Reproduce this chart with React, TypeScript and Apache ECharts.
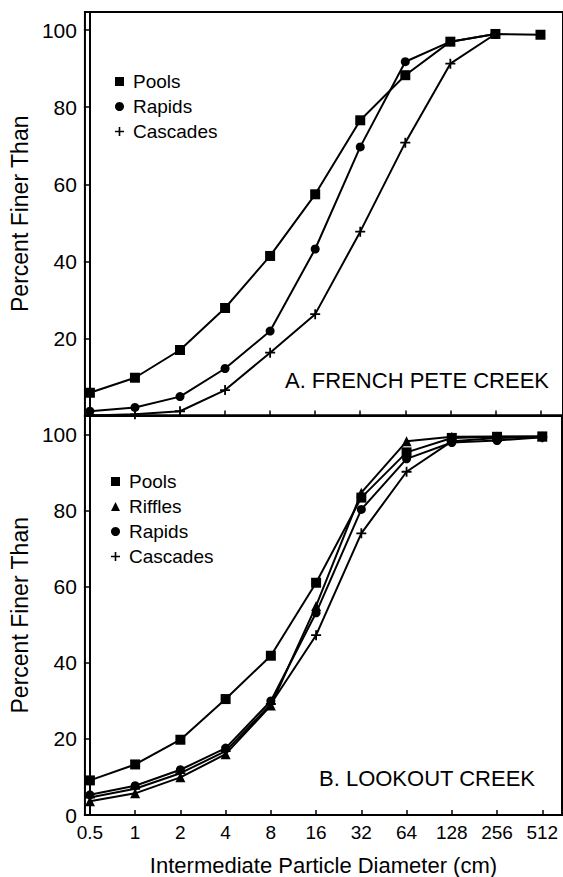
import React, { useEffect, useRef } from 'react';
import * as echarts from 'echarts';

const FONT = '"Liberation Sans", Arial, Helvetica, sans-serif';

// Particle-size classes (cm), equally spaced on a log2 scale
const categories = ['0.5', '1', '2', '4', '8', '16', '32', '64', '128', '256', '512'];

// A. French Pete Creek (percent finer than)
const frenchPools = [5.9, 9.8, 17.0, 27.9, 41.4, 57.4, 76.6, 88.3, 97.0, 99.0, 98.8];
const frenchRapids = [1.1, 2.1, 4.9, 12.2, 21.9, 43.2, 69.7, 91.8, 97.0, 99.0, null];
const frenchCascades = [0.0, 0.3, 1.1, 6.6, 16.3, 26.3, 47.7, 70.8, 91.3, 99.0, null];

// B. Lookout Creek (percent finer than)
const lookoutPools = [9.1, 13.3, 19.8, 30.5, 41.9, 61.1, 83.5, 95.4, 99.2, 99.5, 99.6];
const lookoutRiffles = [3.6, 5.7, 9.9, 16.0, 28.8, 55.0, 84.8, 98.3, 99.5, 99.6, 99.6];
const lookoutRapids = [5.3, 7.7, 11.9, 17.6, 30.0, 53.2, 80.4, 93.7, 98.0, 98.5, 99.4];
const lookoutCascades = [4.6, 6.9, 11.0, 16.8, 29.2, 47.3, 74.1, 90.3, 98.3, 99.2, 99.4];

const yTicks = [0, 20, 40, 60, 80, 100];
const yLabelsTop = [20, 40, 60, 80, 100];
const yLabelsBottom = [0, 20, 40, 60, 80, 100];

const PLUS = 'path://M4.1,0H5.9V4.1H10V5.9H5.9V10H4.1V5.9H0V4.1H4.1Z';

const idx = categories.map((_, i) => i);

function series(name: string, values: (number | null)[], symbol: string, gi: number, size: number) {
  const data: number[][] = [];
  values.forEach((v, i) => {
    if (v !== null) data.push([i, v]);
  });
  return {
    type: 'line',
    name,
    xAxisIndex: gi,
    yAxisIndex: gi,
    data,
    symbol,
    symbolSize: size,
    showSymbol: true,
    lineStyle: { color: '#000', width: 2 },
    itemStyle: { color: '#000' },
    emphasis: { disabled: true },
  };
}

function xAxis(gi: number, max: number, labels: boolean) {
  return {
    type: 'value',
    gridIndex: gi,
    min: -0.11,
    max,
    axisLine: { show: true, lineStyle: { color: '#000', width: 2 } },
    axisTick: { show: true, inside: true, length: 5, customValues: idx, lineStyle: { color: '#000', width: 1.5 } },
    axisLabel: labels
      ? {
          show: true,
          customValues: idx,
          formatter: (v: number) => categories[Math.round(v)] ?? '',
          fontSize: 19,
          color: '#000',
          fontFamily: FONT,
          margin: 8,
        }
      : { show: false },
    splitLine: { show: false },
    name: labels ? 'Intermediate Particle Diameter (cm)' : '',
    nameLocation: 'middle',
    nameGap: 39,
    nameTextStyle: { fontSize: 22, color: '#000', fontFamily: FONT },
  };
}

function yAxis(gi: number, max: number, labelValues: number[]) {
  return {
    type: 'value',
    gridIndex: gi,
    min: 0,
    max,
    axisLine: { show: true, lineStyle: { color: '#000', width: 2 } },
    axisTick: { show: true, inside: false, length: 6, customValues: yTicks, lineStyle: { color: '#000', width: 1.5 } },
    axisLabel: {
      show: true,
      customValues: labelValues,
      fontSize: 21,
      color: '#000',
      fontFamily: FONT,
      margin: 8,
    },
    splitLine: { show: false },
    name: 'Percent Finer Than',
    nameLocation: 'middle',
    nameGap: 44,
    nameRotate: 90,
    nameTextStyle: { fontSize: 23, color: '#000', fontFamily: FONT },
  };
}

const legendText = { fontSize: 19, color: '#000', fontFamily: FONT, padding: [0, 0, 0, 4] };

export default function App() {
  const ref = useRef<HTMLDivElement>(null);
  useEffect(() => {
    if (!ref.current) return;
    const chart = echarts.init(ref.current, null, { renderer: 'svg' });
    chart.setOption({
      animation: false,
      backgroundColor: '#fff',
      grid: [
        { left: 79, top: 12, width: 486, height: 403.5, show: true, borderColor: '#000', borderWidth: 2 },
        { left: 79, top: 415.5, width: 483, height: 402.5, show: true, borderColor: '#000', borderWidth: 2 },
      ],
      xAxis: [xAxis(0, 10.5, false), xAxis(1, 10.436, true)],
      yAxis: [yAxis(0, 104.7, yLabelsTop), yAxis(1, 105.1, yLabelsBottom)],
      legend: [
        {
          orient: 'vertical',
          left: 115,
          top: 72,
          padding: 0,
          itemGap: 6,
          itemWidth: 9,
          itemHeight: 9,
          selectedMode: false,
          textStyle: legendText,
          data: [
            { name: 'Pools', icon: 'rect' },
            { name: 'Rapids', icon: 'circle' },
            { name: 'Cascades', icon: PLUS },
          ],
        },
        {
          orient: 'vertical',
          left: 111,
          top: 472,
          padding: 0,
          itemGap: 6,
          itemWidth: 9,
          itemHeight: 9,
          selectedMode: false,
          textStyle: legendText,
          data: [
            { name: 'Pools', icon: 'rect' },
            { name: 'Riffles', icon: 'triangle' },
            { name: 'Rapids', icon: 'circle' },
            { name: 'Cascades', icon: PLUS },
          ],
        },
      ],
      graphic: [
        {
          type: 'text',
          x: 549,
          y: 380,
          style: { text: 'A. FRENCH PETE CREEK', fill: '#000', font: `22px ${FONT}`, align: 'right', verticalAlign: 'middle' },
        },
        {
          type: 'text',
          x: 535,
          y: 778,
          style: { text: 'B. LOOKOUT CREEK', fill: '#000', font: `22px ${FONT}`, align: 'right', verticalAlign: 'middle' },
        },
      ],
      series: [
        series('Pools', frenchPools, 'rect', 0, 10),
        series('Rapids', frenchRapids, 'circle', 0, 9),
        series('Cascades', frenchCascades, PLUS, 0, 10),
        series('Pools', lookoutPools, 'rect', 1, 10),
        series('Riffles', lookoutRiffles, 'triangle', 1, 10),
        series('Rapids', lookoutRapids, 'circle', 1, 9),
        series('Cascades', lookoutCascades, PLUS, 1, 10),
      ],
    });
    return () => chart.dispose();
  }, []);
  return <div ref={ref} style={{ position: 'absolute', left: 0, top: 0, width: 563, height: 877 }} />;
}
